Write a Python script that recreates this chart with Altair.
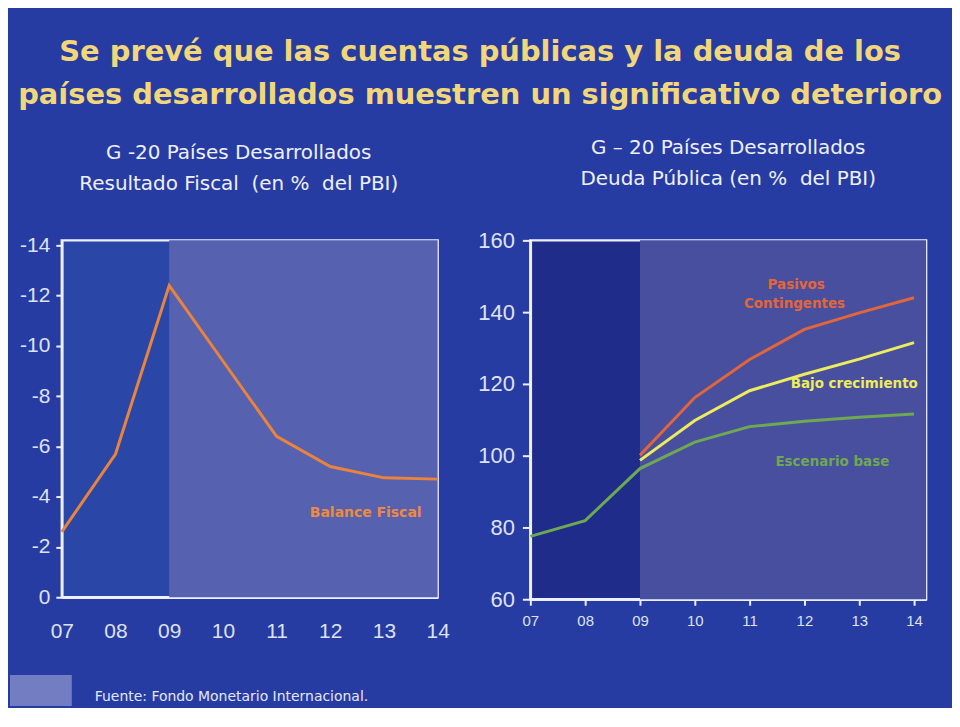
import altair as alt
import pandas as pd

# ---------------- data ----------------
years = [7, 8, 9, 10, 11, 12, 13, 14]
balance_fiscal = [-2.6, -5.7, -12.4, -9.4, -6.4, -5.2, -4.75, -4.7]

escenario_base = [77.5, 81.9, 96.4, 103.8, 108.1, 109.6, 110.7, 111.6]
proj_years = [9, 10, 11, 12, 13, 14]
bajo_crecimiento = [98.7, 109.8, 118.1, 122.7, 126.9, 131.5]
pasivos_contingentes = [100.1, 116.2, 126.8, 135.2, 139.8, 144.0]

left_y_ticks = [-14, -12, -10, -8, -6, -4, -2, 0]
right_y_ticks = [60, 80, 100, 120, 140, 160]

title_lines = ["Se prevé que las cuentas públicas y la deuda de los",
               "países desarrollados muestren un significativo deterioro"]
left_title = ["G -20 Países Desarrollados", "Resultado Fiscal \u00a0(en % \u00a0del PBI)"]
right_title = ["G – 20 Países Desarrollados", "Deuda Pública (en % \u00a0del PBI)"]
footer_text = "Fuente: Fondo Monetario Internacional."

# ---------------- style ----------------
BG = "#263ca2"
AX = "#eef0ff"
LBL = "#dfe2f7"
SANS = "Liberation Sans, Arial, sans-serif"
WIDE = "DejaVu Sans, Verdana, sans-serif"

# ---------------- left panel ----------------
left_df = pd.DataFrame({"year": years, "value": balance_fiscal})
left_shade = pd.DataFrame({"year": [9], "year_end": [14]})
left_lab = pd.DataFrame({"year": [12.66], "value": [-3.37], "t": ["Balance Fiscal"]})

xl = alt.X("year:Q", title=None,
           scale=alt.Scale(domain=[7, 14], nice=False, zero=False),
           axis=alt.Axis(values=years, format="02d", ticks=False, labelPadding=23,
                         labelFont=SANS, labelFontSize=21, labelColor=LBL,
                         domainColor=AX, domainWidth=2.5, grid=False, labelFlush=False))
yl = alt.Y("value:Q", title=None,
           scale=alt.Scale(domain=[-14.2, 0], reverse=True, nice=False, zero=False),
           axis=alt.Axis(values=left_y_ticks,
                         labelExpr="datum.value == 0 ? '0' : '-' + abs(datum.value)",
                         tickSize=6, tickColor=AX, tickWidth=2, labelPadding=6,
                         labelFont=SANS, labelFontSize=21, labelColor=LBL,
                         domainColor=AX, domainWidth=2.5, grid=False,
                         minExtent=52, maxExtent=52, labelFlush=False))

l_rect = alt.Chart(left_shade).mark_rect(color="#5661b0").encode(
    x=xl, x2="year_end:Q", y=alt.value(0), y2=alt.value(358))
l_line = alt.Chart(left_df).mark_line(color="#ea833c", strokeWidth=3).encode(x=xl, y=yl)
l_text = alt.Chart(left_lab).mark_text(color="#ee8a40", fontSize=14, fontWeight="bold",
                                       font=WIDE).encode(x=xl, y=yl, text="t:N")

left = alt.layer(l_rect, l_line, l_text).properties(
    width=377, height=358,
    title=alt.TitleParams(left_title, fontSize=20, font=WIDE, fontWeight="normal",
                          color="#eef0ff", lineHeight=31, anchor="middle", offset=41, dx=-11),
    view=alt.ViewBackground(fill="#2a47a8", stroke=AX, strokeWidth=2.5))

# ---------------- right panel ----------------
right_df = pd.concat([
    pd.DataFrame({"year": years, "value": escenario_base, "s": "Escenario base"}),
    pd.DataFrame({"year": proj_years, "value": bajo_crecimiento, "s": "Bajo crecimiento"}),
    pd.DataFrame({"year": proj_years, "value": pasivos_contingentes, "s": "Pasivos Contingentes"}),
])
series_names = ["Escenario base", "Bajo crecimiento", "Pasivos Contingentes"]
series_colors = ["#6ea852", "#ecec5c", "#e2663a"]
right_shade = pd.DataFrame({"year": [9], "year_end": [14.22]})
right_lab = pd.DataFrame({
    "year": [11.85, 11.82, 12.91, 12.51],
    "value": [147.5, 142.2, 120.0, 98.3],
    "t": ["Pasivos", "Contingentes", "Bajo crecimiento", "Escenario base"],
    "s": ["Pasivos Contingentes", "Pasivos Contingentes", "Bajo crecimiento", "Escenario base"],
})

xr = alt.X("year:Q", title=None,
           scale=alt.Scale(domain=[7, 14.22], nice=False, zero=False),
           axis=alt.Axis(values=years, format="02d", tickSize=6, tickColor=AX, tickWidth=2,
                         labelPadding=8, labelFont=SANS, labelFontSize=15, labelColor=LBL,
                         domainColor=AX, domainWidth=2.5, grid=False, labelFlush=False))
yr = alt.Y("value:Q", title=None,
           scale=alt.Scale(domain=[60, 160], nice=False, zero=False),
           axis=alt.Axis(values=right_y_ticks, tickSize=8, tickColor=AX, tickWidth=2,
                         labelPadding=8, labelFont=SANS, labelFontSize=22, labelColor=LBL,
                         domainColor=AX, domainWidth=2.5, grid=False,
                         minExtent=58, maxExtent=58, labelFlush=False))
col = alt.Color("s:N", scale=alt.Scale(domain=series_names, range=series_colors), legend=None)

r_rect = alt.Chart(right_shade).mark_rect(color="#494f9f").encode(
    x=xr, x2="year_end:Q", y=alt.value(0), y2=alt.value(360))
r_line = alt.Chart(right_df).mark_line(strokeWidth=3).encode(x=xr, y=yr, color=col, detail="s:N")
r_text = alt.Chart(right_lab).mark_text(fontSize=13.5, fontWeight="bold", font=WIDE).encode(
    x=xr, y=yr, text="t:N", color=col)

right = alt.layer(r_rect, r_line, r_text).properties(
    width=397, height=360,
    title=alt.TitleParams(right_title, fontSize=20, font=WIDE, fontWeight="normal",
                          color="#eef0ff", lineHeight=31, anchor="middle", offset=41),
    view=alt.ViewBackground(fill="#1f2c8a", stroke=AX, strokeWidth=2.5))

panels = alt.hconcat(left, right, spacing=20)

# ---------------- footer ----------------
footer_df = pd.DataFrame({"t": [footer_text]})
f_logo = alt.Chart(footer_df).mark_rect(color="#8088c8", opacity=0.85).encode(
    x=alt.value(-52), x2=alt.value(10), y=alt.value(5), y2=alt.value(36))
f_text = alt.Chart(footer_df).mark_text(
    align="left", baseline="middle", fontSize=14, font=WIDE, color="#e4e7fa"
).encode(text="t:N", x=alt.value(33), y=alt.value(27))
footer = alt.layer(f_logo, f_text).properties(
    width=892, height=36, view=alt.ViewBackground(stroke="transparent"))

chart = alt.vconcat(panels, footer, spacing=26).properties(
    background=BG,
    padding={"left": 0, "right": 0, "top": 28, "bottom": 0},
    title=alt.TitleParams(title_lines, fontSize=29, font=WIDE, fontWeight="bold",
                          color="#f2d77a", lineHeight=43, anchor="middle", offset=27),
)

chart.save("out.html", embed_options={"renderer": "svg", "actions": False})
